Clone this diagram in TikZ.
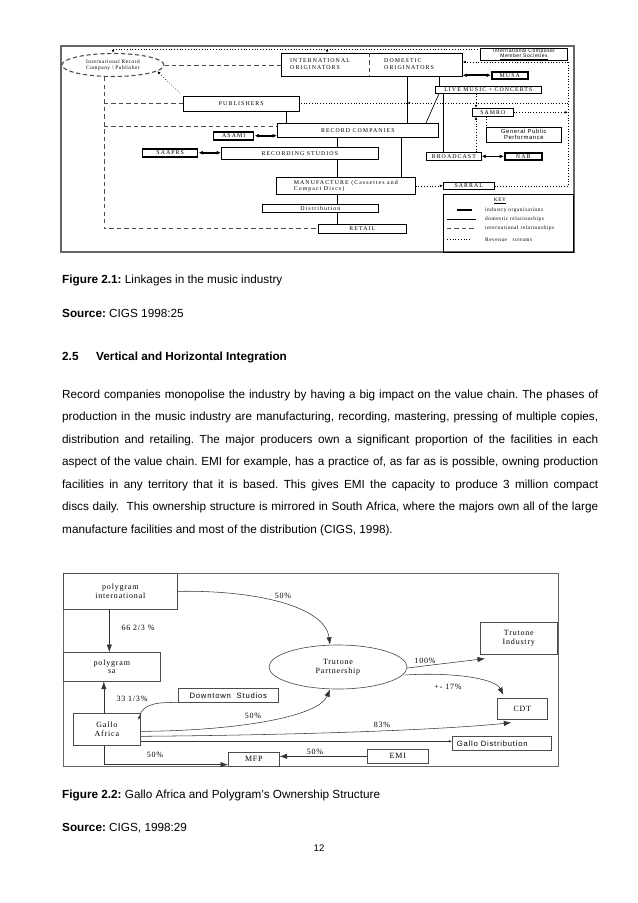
\documentclass[tikz,border=0pt]{standalone}
\usepackage{fontspec}
\setmainfont{Liberation Sans}
\newfontfamily\linkcaps[LetterSpace=18]{Liberation Serif}
\newfontfamily\linkkey[LetterSpace=10]{Liberation Serif}
\newfontfamily\linksans[LetterSpace=10]{Liberation Sans}
\newfontfamily\ownserif[LetterSpace=10]{Liberation Serif}
\newfontfamily\ownsans[LetterSpace=10]{Liberation Sans}
\usetikzlibrary{arrows.meta, positioning, shapes.geometric}

\newlength\px
\setlength\px{0.3289mm}

\newcommand\capsfnt{\linkcaps\fontsize{5.5}{5.8}\selectfont}
\newcommand\keyfnt{\linkkey\fontsize{5}{6}\selectfont}
\newcommand\ownfnt{\ownserif\fontsize{7.5}{8}\selectfont}
\newcommand\bodyfnt{\fontsize{11}{13}\selectfont}
\frenchspacing

\tikzset{
  figframe/.style={draw=black!60, line width=1.2pt},
  cbox/.style={draw, line width=0.6pt, inner sep=0pt, anchor=north west, align=center, font=\capsfnt},
  orgbox/.style={cbox, line width=1.4pt},
  lbl/.style={inner sep=0pt, align=left, font=\capsfnt},
  keytxt/.style={inner sep=0pt, anchor=west, font=\keyfnt},
  dom/.style={line width=0.6pt},
  intl/.style={draw=black!70, line width=0.8pt, dash pattern=on 4pt off 3pt},
  revline/.style={line width=0.6pt, dotted},
  rev/.style={revline, -{Latex[length=3pt,width=2.5pt]}},
  ind/.style={line width=1.5pt, {Latex[length=4pt,width=3.5pt]}-{Latex[length=4pt,width=3.5pt]}},
  obox/.style={draw=black!70, line width=0.6pt, inner sep=0pt, anchor=north west, align=center, font=\ownfnt},
  own/.style={draw=black!80, line width=0.5pt, -{Latex[length=7pt,width=5pt]}},
  pct/.style={inner sep=0pt, font=\ownfnt},
  body/.style={anchor=base west, inner sep=0pt, font=\bodyfnt},
}

\begin{document}
\begin{tikzpicture}[x=1\px, y=-1\px]
\useasboundingbox (0,0) rectangle (638,903);

% Figure 2.1 -- linkages
\draw[figframe] (61,46) rectangle (574,252);
\node[draw=black!70, ellipse, line width=1pt, dash pattern=on 4pt off 2.5pt, minimum width=102\px, minimum height=23\px, inner sep=0pt, align=center, font=\keyfnt] (irc) at (113,65) {International Record\\Company \textbackslash\ Publisher};
\node[cbox, minimum width=181\px, minimum height=23\px] (orig) at (281,53) {};
\draw[intl, line width=0.5pt] (369,53) -- (369,76);
\node[lbl, anchor=west] (origint) at (290,64) {INTERNATIONAL\\ORIGINATORS};
\node[lbl, anchor=west] (origdom) at (384,64) {DOMESTIC\\ORIGINATORS};
\node[cbox, line width=1pt, minimum width=87\px, minimum height=12\px, font=\linksans\fontsize{4.7}{4.6}\selectfont] (icms) at (480,48) {International Composer\\\underline{Member Societies}};
\node[orgbox, minimum width=36\px, minimum height=7\px] (musa) at (491,71) {MUSA};
\node[cbox, minimum width=106\px, minimum height=7\px] (live) at (435,86) {LIVE MUSIC + CONCERTS};
\node[cbox, minimum width=116\px, minimum height=15\px] (pub) at (183,96) {PUBLISHERS};
\node[cbox, minimum width=41\px, minimum height=8\px] (sambo) at (472,108) {SAMRO};
\node[cbox, minimum width=75\px, minimum height=15\px, font=\linksans\fontsize{5.5}{5.5}\selectfont] (gpp) at (486,127) {General Public\\Performance};
\node[cbox, minimum width=161\px, minimum height=14\px] (rc) at (277,123) {RECORD COMPANIES};
\node[orgbox, minimum width=40\px, minimum height=8\px] (asami) at (213,131) {ASAMI};
\node[cbox, minimum width=157\px, minimum height=12\px] (rs) at (221,147) {RECORDING STUDIOS};
\node[orgbox, minimum width=55\px, minimum height=8\px] (saaprs) at (142,148) {SAAPRS};
\node[cbox, minimum width=55\px, minimum height=8\px] (bc) at (426,152) {BROADCAST};
\node[orgbox, minimum width=37\px, minimum height=7\px] (nab) at (504,152) {NAB};
\node[cbox, minimum width=139\px, minimum height=17\px, align=left] (mf) at (276,177) {MANUFACTURE (Cassettes and\\Compact Discs)};
\node[cbox, minimum width=51\px, minimum height=7\px] (sarral) at (443,182) {SARRAL};
\node[cbox, minimum width=116\px, minimum height=8\px] (dist) at (262,204) {Distribution};
\node[cbox, minimum width=88\px, minimum height=9\px] (retail) at (318,224) {RETAIL};

% domestic relationships
\coordinate (busA) at (286,0);
\coordinate (busB) at (407,0);
\coordinate (busC) at (439,0);
\coordinate (busD) at (443,0);
\coordinate (busE) at (401,0);
\coordinate (busF) at (426,0);
\coordinate (chain) at (337,0);
\draw[dom] (pub.south -| busA) -- (rc.north -| busA);
\draw[dom] (orig.south -| busB) -- (rc.north -| busB);
\draw[dom] (orig.south -| busC) -- (live.north -| busC);
\draw[dom] (live.south -| busD) -- (bc.north -| busD);
\draw[dom] (live.south -| busC) -- (rc.north -| busF);
\draw[dom] (rc.south -| busE) -- (mf.north -| busE);
\draw[dom] (rc.south -| chain) -- (rs.north -| chain);
\draw[dom] (rs.south -| chain) -- (mf.north -| chain);
\draw[dom] (mf.south -| chain) -- (dist.north -| chain);
\draw[dom] (dist.south -| chain) -- (retail.north -| chain);

% international relationships
\coordinate (intlbus) at (104,0);
\draw[intl] (irc.east) -- (irc.east -| orig.west);
\draw[intl] (irc.south -| intlbus) |- (retail.west);
\draw[intl] (pub.west -| intlbus) -- (pub.west);
\draw[intl] ([yshift=-3\px]rc.north west -| intlbus) -- ([yshift=-3\px]rc.north west);

% revenue streams
\coordinate (revtop) at (0,49);
\coordinate (revdrop) at (327,0);
\coordinate (revcorner) at (568,62);
\coordinate (revmid) at (568,103);
\coordinate (busS) at (476,0);
\coordinate (busG) at (486,0);
\draw[revline] (irc.north |- revtop) -- (icms.west |- revtop);
\draw[rev] (irc.north |- revtop) -- (irc.north);
\draw[rev] (revdrop |- revtop) -- (revdrop |- orig.north);
\draw[rev] (revcorner) -- (revcorner -| orig.east);
\draw[revline] (revcorner) -- (revcorner |- sarral.east);
\draw[rev] (revmid) -- (revmid -| busB);
\draw[revline] (revmid -| busB) -- (revmid -| pub.east);
\draw[rev] (sambo.east) -- (sambo.east -| revcorner);
\draw[rev] (live.south -| busS) -- (sambo.north -| busS);
\draw[rev] (bc.north -| busS) -- (sambo.south -| busS);
\draw[revline] (sambo.south -| busG) -- (gpp.north -| busG);
\draw[rev] (mf.east) -- (sarral.west);
\draw[revline] (sarral.east) -- (sarral.east -| revcorner);
\draw[rev] ([xshift=-3\px, yshift=3\px]pub.north west) -- (irc.-8);

% industry organisations
\draw[ind] (orig.east |- musa.west) -- (musa.west);
\draw[ind] (asami.east) -- (asami.east -| rc.west);
\draw[ind] (saaprs.east) -- (saaprs.east -| rs.west);
\draw[ind] (bc.east) -- (bc.east -| nab.west);

% key
\node[cbox, minimum width=130\px, minimum height=58\px] (key) at (443,194) {};
\node[inner sep=0pt, font=\keyfnt] (keyhead) at (500,201) {\underline{KEY}};
\draw[line width=2.5pt] (457,210) -- (472,210);
\draw[dom] (447,219) -- (476,219);
\draw[intl, line width=0.6pt] (447,228) -- (476,228);
\draw[revline] (447,239) -- (472,239);
\node[keytxt] (kind) at (485,210) {industry organisations};
\node[keytxt] (kdom) at (485,219) {domestic relationships};
\node[keytxt] (kint) at (485,228) {international relationships};
\node[keytxt] (krev) at (485,240) {Revenue\ \ \ streams};

% captions and text
\node[body] (cap1) at (62,283) {\textbf{Figure 2.1:} Linkages in the music industry};
\node[body] (src1) at (62,317) {\textbf{Source:} CIGS 1998:25};
\node[body, font=\bodyfnt\bfseries] (secnum) at (62,360) {2.5};
\node[body, font=\bodyfnt\bfseries] (sectitle) at (96,360) {Vertical and Horizontal Integration};
\node[body] (par1) at (62,398) {\makebox[536\px][s]{Record companies monopolise the industry by having a big impact on the value chain. The phases of}};
\node[body] (par2) at (62,420.5) {\makebox[536\px][s]{production in the music industry are manufacturing, recording, mastering, pressing of multiple copies,}};
\node[body] (par3) at (62,443) {\makebox[536\px][s]{distribution and retailing. The major producers own a significant proportion of the facilities in each}};
\node[body] (par4) at (62,465.5) {\makebox[536\px][s]{aspect of the value chain. EMI for example, has a practice of, as far as is possible, owning production}};
\node[body] (par5) at (62,488) {\makebox[536\px][s]{facilities in any territory that it is based. This gives EMI the capacity to produce 3 million compact}};
\node[body] (par6) at (62,510.5) {\makebox[536\px][s]{discs daily.\ \ This ownership structure is mirrored in South Africa, where the majors own all of the large}};
\node[body] (par7) at (62,533) {manufacture facilities and most of the distribution (CIGS, 1998).};

% Figure 2.2 -- ownership
\draw[draw=black!60, line width=0.6pt] (63,573) rectangle (558,766);
\node[obox, minimum width=114\px, minimum height=36\px] (pi) at (63,573) {polygram\\international};
\node[obox, minimum width=97\px, minimum height=29\px] (ps) at (63,652) {polygram\\sa};
\node[obox, minimum width=67\px, minimum height=32\px] (ga) at (73,713) {Gallo\\Africa};
\node[obox, minimum width=100\px, minimum height=14\px, font=\ownsans\fontsize{7.2}{8}\selectfont] (ds) at (178,688) {Downtown\ \ Studios};
\node[draw=black!70, ellipse, line width=0.6pt, minimum width=138\px, minimum height=44\px, inner sep=0pt, align=center, font=\ownfnt] (tp) at (338,667) {Trutone\\Partnership};
\node[obox, minimum width=77\px, minimum height=32\px] (ti) at (480,622) {Trutone\\Industry};
\node[obox, minimum width=50\px, minimum height=21\px] (cdt) at (497,698) {CDT};
\node[obox, minimum width=99\px, minimum height=14\px, font=\ownsans\fontsize{7.2}{8}\selectfont] (gd) at (452,736) {\makebox[90\px][l]{Gallo Distribution}};
\node[obox, minimum width=51\px, minimum height=14\px] (mfp) at (228,752) {MFP};
\node[obox, minimum width=61\px, minimum height=14\px] (emi) at (367,749) {EMI};

\draw[own] ([xshift=-11\px]pi.south) -- ([xshift=-11\px]pi.south |- ps.north);
\draw[own] ([xshift=-3\px]ga.north) -- ([xshift=-3\px]ga.north |- ps.south);
\draw[own] (pi.east) .. controls (255,590) and (325,606) .. ([xshift=-8\px]tp.north);
\draw[own] ([yshift=-1\px]tp.east) .. controls (440,664) and (465,661) .. ([xshift=5\px, yshift=-4\px]ti.south west);
\draw[own] ([xshift=-2\px, yshift=-8\px]tp.east) .. controls (450,672) and (495,678) .. ([xshift=-19\px, yshift=3\px]cdt.north);
\draw[own] ([yshift=-2\px]ga.east) .. controls (230,731) and (318,718) .. ([xshift=-8\px]tp.south);
\draw[own] ([yshift=-7\px]ga.east) .. controls (300,735) and (440,730) .. ([xshift=-11\px, yshift=-3\px]cdt.south);
\draw[draw=black!80, line width=0.5pt, -{Latex[length=3pt,width=2.5pt]}] ([yshift=-12\px]ga.east) -- ([yshift=-12\px]ga.east -| gd.west);
\draw[draw=black!80, line width=0.5pt, {Latex[length=3pt,width=2.5pt]}-] ([xshift=-2\px, yshift=-7\px]ga.north east) .. controls (142,703) and (160,702) .. (ds.south west);
\draw[own] (emi.west) -- (emi.west -| mfp.east);
\draw[own] ([xshift=-3\px]ga.south) |- ([yshift=2\px]mfp.south west);

\node[pct] (p66) at (138,628) {66 2/3 \%};
\node[pct] (p33) at (132,699) {33 1/3\%};
\node[pct] (p50a) at (283,596) {50\%};
\node[pct] (p100) at (425,661) {100\%};
\node[pct] (p17) at (448,687) {+- 17\%};
\node[pct] (p50b) at (253,716) {50\%};
\node[pct] (p83) at (382,725) {83\%};
\node[pct] (p50c) at (315,752) {50\%};
\node[pct] (p50d) at (155,755) {50\%};

\node[body] (cap2) at (62,798) {\textbf{Figure 2.2:} Gallo Africa and Polygram's Ownership Structure};
\node[body] (src2) at (62,831) {\textbf{Source:} CIGS, 1998:29};
\node[body, anchor=base, font=\fontsize{9}{10}\selectfont] (pgno) at (319,851) {12};
\end{tikzpicture}
\end{document}
